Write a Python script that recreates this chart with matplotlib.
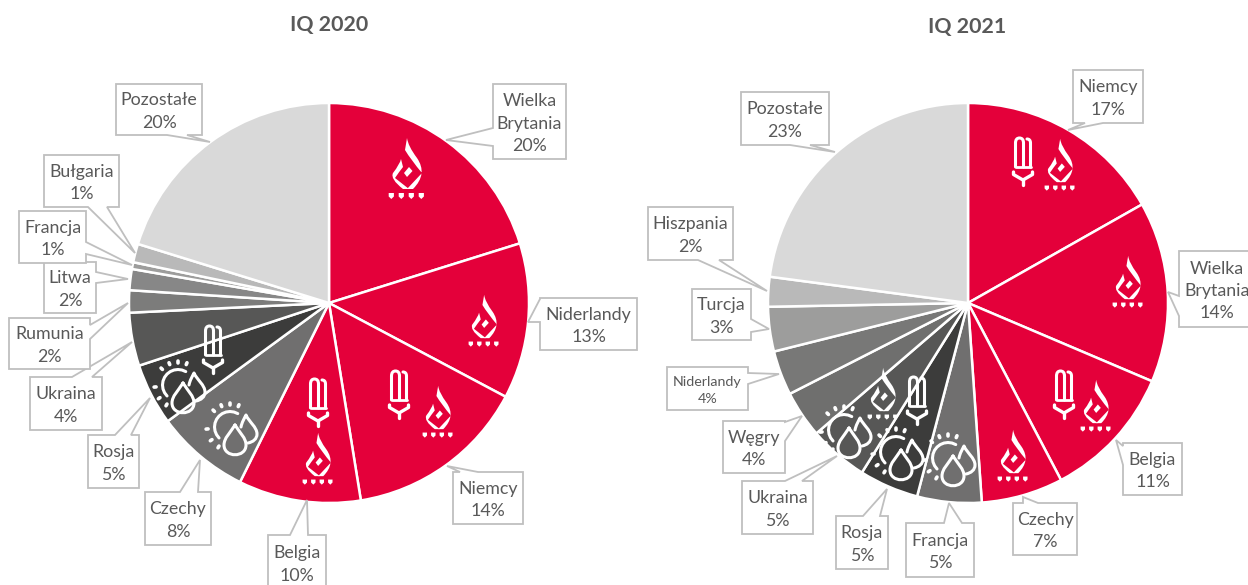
import matplotlib
matplotlib.use('Agg')
import matplotlib.pyplot as plt
import numpy as np
from matplotlib.patches import PathPatch, Polygon
from matplotlib.path import Path

plt.rcParams['font.family'] = ['Lato', 'DejaVu Sans']

RED = '#E4003A'
TEXT = '#595959'
LINE = '#BFBFBF'

names_2020 = ['Wielka\nBrytania', 'Niderlandy', 'Niemcy', 'Belgia', 'Czechy', 'Rosja',
              'Ukraina', 'Rumunia', 'Litwa', 'Francja', 'Bułgaria', 'Pozostałe']
pcts_2020 = [20, 13, 14, 10, 8, 5, 4, 2, 2, 1, 1, 20]
shares_2020 = [20.2, 12.6, 14.7, 9.9, 7.6, 5.0, 4.3, 1.8, 1.7, 0.55, 1.5, 20.25]
colors_2020 = [RED, RED, RED, RED, '#706F6F', '#3C3C3B', '#575756', '#7C7C7B', '#878787',
               '#9D9D9C', '#B9B9B9', '#D9D9D9']

names_2021 = ['Niemcy', 'Wielka\nBrytania', 'Belgia', 'Czechy', 'Francja', 'Rosja', 'Ukraina',
              'Węgry', 'Niderlandy', 'Turcja', 'Hiszpania', 'Pozostałe']
pcts_2021 = [17, 14, 11, 7, 5, 5, 5, 4, 4, 3, 2, 23]
shares_2021 = [16.8, 14.6, 10.9, 6.6, 5.2, 4.8, 4.8, 3.8, 3.6, 3.6, 2.4, 22.9]
colors_2021 = [RED, RED, RED, RED, '#706F6F', '#3C3C3B', '#575756', '#6F6F6E', '#787877',
               '#9D9D9C', '#B9B9B9', '#D9D9D9']

# callout layout in picture pixels: box, tip, side of the wedge, wedge base
callouts_2020 = [
    ((493, 84, 566, 159), (446, 140), 'left', (128, 146)),
    ((540, 298, 637, 350), (528, 322), 'left', (299, 322)),
    ((453, 472, 523, 524), (447, 466), 'top', (460, 478)),
    ((268, 535, 326, 590), (307, 500), 'top', (290, 308)),
    ((145, 492, 211, 545), (200, 460), 'top', (180, 198)),
    ((88, 435, 139, 488), (150, 398), 'top', (115, 131)),
    ((30, 377, 102, 430), (132, 342), 'top', (72, 92)),
    ((9, 318, 90, 369), (128, 303), 'right', (325, 339)),
    ((44, 262, 96, 313), (128, 279), 'right', (272, 283)),
    ((19, 211, 86, 263), (132, 265), 'right', (242, 254)),
    ((44, 155, 119, 207), (135, 253), 'bottom', (88, 107)),
    ((116, 84, 202, 135), (210, 142), 'bottom', (167, 187)),
]
callouts_2021 = [
    ((1073, 70, 1143, 123), (1068, 130), 'bottom', (1085, 1103)),
    ((1179, 251, 1255, 327), (1168, 292), 'left', (296, 316)),
    ((1123, 443, 1182, 495), (1116, 440), 'left', (446, 465)),
    ((1013, 503, 1077, 555), (1023, 497), 'top', (1023, 1038)),
    ((906, 523, 974, 577), (949, 503), 'top', (944, 962)),
    ((836, 516, 888, 569), (887, 489), 'top', (863, 880)),
    ((742, 481, 813, 534), (837, 456), 'top', (785, 802)),
    ((723, 421, 785, 473), (802, 416), 'right', (422, 441)),
    ((667, 367, 748, 410), (779, 374), 'right', (373, 384)),
    ((692, 289, 751, 340), (769, 329), 'right', (319, 332)),
    ((648, 207, 733, 260), (767, 291), 'bottom', (698, 719)),
    ((741, 92, 829, 145), (835, 152), 'bottom', (790, 810)),
]

# icon places in picture pixels, the flames with their scale
flames = [(408, 170, 1.0), (485, 322, 0.85), (439, 413, 0.85), (319, 460, 0.85), (1061, 166, 0.85),
          (1129, 283, 0.85), (1097, 407, 0.85), (1014, 457, 0.85), (884, 395, 0.85)]
bulbs = [(399, 395), (318, 403), (213, 350), (1023, 162), (1064, 395), (917, 401)]
suns = [(233, 430), (181, 388), (951, 461), (899, 455), (847, 433)]


def draw_pie(ax, shares, colors, center):
    # the y axis is inverted, so counterclock here reads clockwise from the top
    ax.pie(shares, colors=colors, center=center, radius=200, startangle=270, counterclock=True,
           wedgeprops={'edgecolor': 'white', 'linewidth': 1.8}, frame=True)


def draw_callout(ax, box, tip, side, base, name, pct):
    x0, y0, x1, y1 = box
    if side == 'left':
        pts = [(x0, y0), (x1, y0), (x1, y1), (x0, y1), (x0, base[1]), tip, (x0, base[0])]
    elif side == 'right':
        pts = [(x0, y0), (x1, y0), (x1, base[0]), tip, (x1, base[1]), (x1, y1), (x0, y1)]
    elif side == 'top':
        pts = [(x0, y0), (base[0], y0), tip, (base[1], y0), (x1, y0), (x1, y1), (x0, y1)]
    else:
        pts = [(x0, y0), (x1, y0), (x1, y1), (base[1], y1), tip, (base[0], y1), (x0, y1)]
    ax.add_patch(Polygon(pts, closed=True, facecolor='white', edgecolor=LINE, linewidth=1.3, zorder=5))
    size = 10.3 if name == 'Niderlandy' and y1 - y0 < 50 else 12.8
    ax.text((x0 + x1) / 2, (y0 + y1) / 2 + 2, f'{name}\n{pct}%', ha='center', va='center', fontsize=size,
            color=TEXT, linespacing=1.5, zorder=6)


def stroke(ax, x, y, verts, codes, lw=2.2):
    path = Path(np.array(verts) + (x, y), codes)
    ax.add_patch(PathPatch(path, facecolor='none', edgecolor='white', linewidth=lw,
                           capstyle='round', joinstyle='round', zorder=3))


def fill(ax, x, y, verts, codes, scale=1.0):
    path = Path(np.array(verts) * scale + (x, y), codes)
    ax.add_patch(PathPatch(path, facecolor='white', edgecolor='none', zorder=3))


def draw_flame(ax, x, y, scale):
    M, L, Q, C = Path.MOVETO, Path.LINETO, Path.CURVE3, Path.CLOSEPOLY
    fill(ax, x, y, [(-1, -32), (0, -24), (9, -12), (20, 4), (5, 19), (-1, 19), (-1, 19), (14, 3),
                    (3, -10), (-3, -20), (-1, -32), (-1, -32)],
         [M, Q, Q, Q, Q, L, Q, Q, Q, Q, Q, C], scale)
    fill(ax, x, y, [(-7, -11), (-8, -6), (-15, 3), (-18, 9), (-5, 19), (1, 19), (1, 19), (-13, 8),
                    (-9, 2), (-5, -3), (-7, -11), (-7, -11)],
         [M, Q, Q, Q, Q, L, Q, Q, Q, Q, Q, C], scale)
    fill(ax, x, y, [(1, -3), (4.5, 1), (-1, 7), (-4, 3), (1, -3)], [M, L, L, L, C], scale)
    for dx in [-16.7, -6.7, 3.3, 13.3]:
        fill(ax, x, y, [(dx - 2.6, 23), (dx + 2.6, 23), (dx + 2.6, 26.5), (dx, 29),
                        (dx - 2.6, 26.5), (dx - 2.6, 23)], [M, L, L, L, L, C], scale)


def draw_bulb(ax, x, y):
    M, L, Q = Path.MOVETO, Path.LINETO, Path.CURVE3
    stroke(ax, x, y, [(-7.5, 5), (-7.5, -19), (-7.5, -24), (-3.5, -24), (0.5, -24), (0.5, -19), (0.5, 5)],
           [M, L, Q, Q, Q, Q, L])
    stroke(ax, x, y, [(4, -23), (7.5, -23), (7.5, -19), (7.5, 5)], [M, Q, Q, L])
    stroke(ax, x, y, [(-7.5, 5), (7.5, 5)], [M, L], lw=2.0)
    stroke(ax, x, y, [(-9.5, 10), (-9.5, 12.5), (0, 18), (9.5, 12.5), (9.5, 10)], [M, L, L, L, L], lw=2.4)
    stroke(ax, x, y, [(0, 18), (0, 23)], [M, L], lw=2.4)


def draw_sun(ax, x, y):
    M, C4, L = Path.MOVETO, Path.CURVE4, Path.LINETO
    t = np.radians(np.arange(-60, -240, -15.0))
    arc = np.column_stack([-3 + 15.5 * np.cos(t), -3 + 15.5 * np.sin(t)])
    stroke(ax, x, y, arc, [M] + [L] * (len(arc) - 1))
    for a in [-135, -112, -90, -68, 175, 145, 120]:
        r = np.radians(a)
        stroke(ax, x, y, [(-3 + 22 * np.cos(r), -3 + 22 * np.sin(r)),
                          (-3 + 24 * np.cos(r), -3 + 24 * np.sin(r))], [M, L], lw=2.6)
    # large drop
    stroke(ax, x, y, [(2, -5), (-3, 3), (-9, 8), (-9, 15), (-9, 28), (13, 28), (13, 15),
                      (13, 8), (7, 3), (2, -5)], [M, C4, C4, C4, C4, C4, C4, C4, C4, C4])
    # small drop behind it
    stroke(ax, x, y, [(8, -3), (9, -8), (11, -11), (13, -15), (16, -8), (24, -3), (24, 4),
                      (24, 9), (20, 12), (15, 13)], [M, C4, C4, C4, C4, C4, C4, C4, C4, C4])


def main():
    fig = plt.figure(figsize=(12.48, 5.85), dpi=100)
    ax = fig.add_axes([0, 0, 1, 1])

    draw_pie(ax, shares_2020, colors_2020, (329, 303))
    draw_pie(ax, shares_2021, colors_2021, (968, 303))
    ax.set_xlim(0, 1248)
    ax.set_ylim(585, 0)
    ax.set_aspect('equal')
    ax.axis('off')

    for name, pct, call in zip(names_2020, pcts_2020, callouts_2020):
        draw_callout(ax, *call, name, pct)
    for name, pct, call in zip(names_2021, pcts_2021, callouts_2021):
        draw_callout(ax, *call, name, pct)

    for x, y, scale in flames:
        draw_flame(ax, x, y, scale)
    for x, y in bulbs:
        draw_bulb(ax, x, y)
    for x, y in suns:
        draw_sun(ax, x, y)

    ax.text(329, 25, 'IQ 2020', ha='center', va='center', fontsize=15.4, fontweight='bold', color=TEXT)
    ax.text(967, 27, 'IQ 2021', ha='center', va='center', fontsize=15.4, fontweight='bold', color=TEXT)

    fig.savefig('out.png', dpi=100)


if "__main__" == __name__:
    main()
